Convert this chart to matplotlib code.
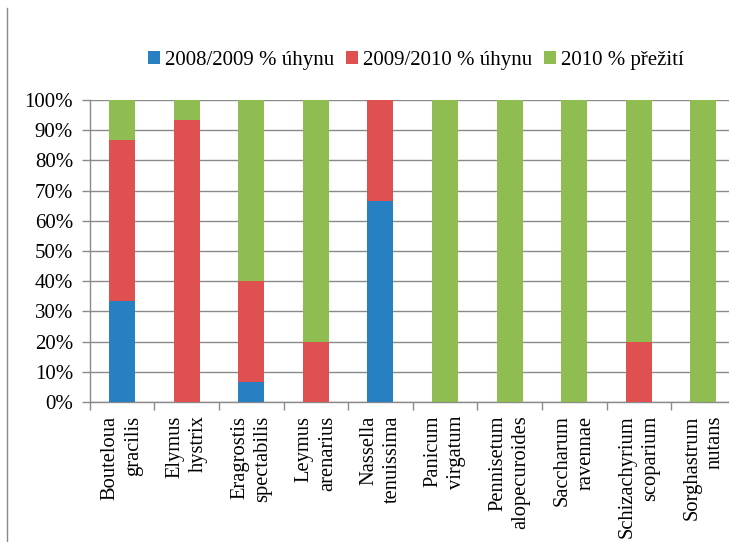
import matplotlib
matplotlib.use("Agg")
import matplotlib.pyplot as plt
from matplotlib.lines import Line2D
import numpy as np

plt.rcParams["font.family"] = ["Liberation Serif", "DejaVu Serif"]

species = [
    "Bouteloua\ngracilis", "Elymus\nhystrix", "Eragrostis\nspectabilis",
    "Leymus\narenarius", "Nassella\ntenuissima", "Panicum\nvirgatum",
    "Pennisetum\nalopecuroides", "Saccharum\nravennae", "Schizachyrium\nscoparium",
    "Sorghastrum\nnutans",
]
loss_2009 = [33.3, 0, 6.7, 0, 66.7, 0, 0, 0, 0, 0]
loss_2010 = [53.3, 93.3, 33.3, 20.0, 33.3, 0, 0, 0, 20.0, 0]
survival_2010 = [13.4, 6.7, 60.0, 80.0, 0, 100, 100, 100, 80.0, 100]

series_labels = ["2008/2009 % úhynu", "2009/2010 % úhynu", "2010 % přežití"]
colors = ["#2780C2", "#DF5050", "#8FBD51"]

fig = plt.figure(figsize=(7.29, 5.42), dpi=100)
ax = fig.add_axes([89.7 / 729, 1 - 402 / 542, 646 / 729, 302 / 542])

x = np.arange(len(species))
bottom = np.zeros(len(species))
handles = []
for vals, lab, col in zip([loss_2009, loss_2010, survival_2010], series_labels, colors):
    b = ax.bar(x, vals, width=0.4, bottom=bottom, color=col, label=lab, zorder=3)
    bottom += np.array(vals)
    handles.append(b)

ax.set_xlim(-0.5, len(species) - 0.5)
ax.set_ylim(0, 100)
ax.set_yticks(np.arange(0, 101, 10))
ax.set_yticklabels([f"{v}%" for v in range(0, 101, 10)], fontsize=15)
ax.yaxis.grid(True, color="#8a8a8a", linewidth=1.0, zorder=0)
ax.set_axisbelow(True)

# category labels between boundary ticks
ax.set_xticks(np.arange(-0.5, len(species), 1.0))
ax.set_xticklabels([])
ax.tick_params(axis="x", length=6, color="#8a8a8a", width=1)
ax.tick_params(axis="y", length=6, color="#8a8a8a", width=1, pad=6)
for i, name in enumerate(species):
    ax.text(i, -4.5, name, rotation=90, ha="center", va="top",
            multialignment="right", fontsize=14.8, linespacing=1.3,
            transform=ax.transData, clip_on=False)

for side in ["top", "right"]:
    ax.spines[side].set_visible(False)
for side in ["left", "bottom"]:
    ax.spines[side].set_color("#8a8a8a")
    ax.spines[side].set_linewidth(1)

fig.legend(handles=handles, labels=series_labels, loc="center",
           bbox_to_anchor=(416 / 729, 1 - 60 / 542), ncol=3, frameon=False,
           fontsize=15, handlelength=0.58, handleheight=0.58, handletextpad=0.25,
           columnspacing=0.55, borderaxespad=0)

fig.add_artist(Line2D([7 / 729, 7 / 729], [0, 1 - 8 / 542],
                      transform=fig.transFigure, color="#8a8a8a", linewidth=1))

fig.savefig("out.png", dpi=100)
